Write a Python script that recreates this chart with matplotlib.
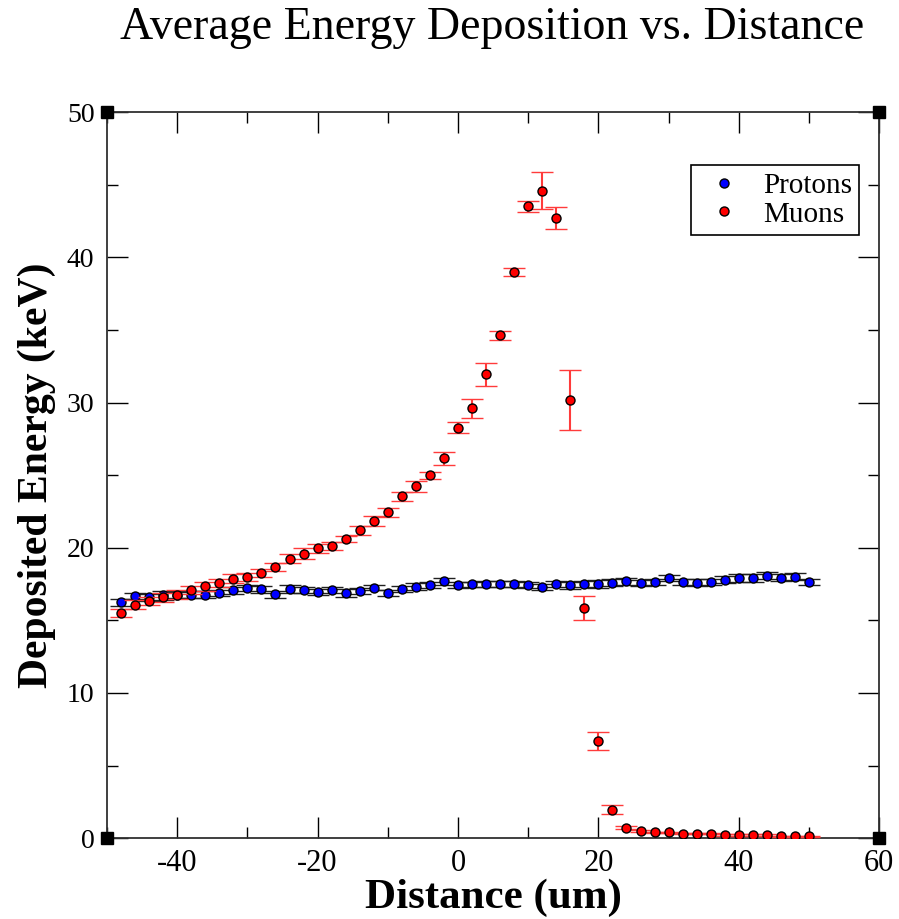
import matplotlib
matplotlib.use("Agg")
import matplotlib.pyplot as plt
from matplotlib.ticker import MultipleLocator
from matplotlib.lines import Line2D
import numpy as np

# Distance bins (um), every 2 um
distance = np.arange(-48, 51, 2)

# Protons: average deposited energy (keV) and errors
protons = [16.23, 16.67, 16.58, 16.71, 16.76, 16.76, 16.76, 16.90, 17.08, 17.20,
           17.13, 16.80, 17.17, 17.08, 16.94, 17.08, 16.90, 17.01, 17.26, 16.90,
           17.15, 17.32, 17.42, 17.68, 17.42, 17.47, 17.50, 17.50, 17.50, 17.42,
           17.31, 17.50, 17.40, 17.50, 17.50, 17.58, 17.68, 17.58, 17.65, 17.93,
           17.65, 17.58, 17.65, 17.80, 17.94, 17.93, 18.08, 17.93, 18.01, 17.65]
protons_err = [0.25, 0.22, 0.25, 0.28, 0.22, 0.25, 0.25, 0.22, 0.24, 0.20,
               0.22, 0.25, 0.29, 0.22, 0.20, 0.22, 0.28, 0.22, 0.20, 0.22,
               0.20, 0.22, 0.22, 0.25, 0.20, 0.20, 0.20, 0.22, 0.20, 0.20,
               0.22, 0.20, 0.22, 0.22, 0.25, 0.25, 0.25, 0.22, 0.20, 0.22,
               0.22, 0.24, 0.20, 0.25, 0.28, 0.26, 0.25, 0.24, 0.22, 0.22]

# Muons: average deposited energy (keV) and errors
muons = [15.53, 16.07, 16.32, 16.58, 16.76, 17.08, 17.33, 17.58, 17.88, 17.99,
         18.25, 18.68, 19.24, 19.58, 19.97, 20.13, 20.61, 21.19, 21.85, 22.45,
         23.53, 24.22, 24.98, 26.15, 28.26, 29.59, 31.93, 34.63, 38.98, 43.53,
         44.60, 42.72, 30.17, 15.84, 6.70, 1.97, 0.71, 0.48, 0.39, 0.39,
         0.30, 0.30, 0.30, 0.21, 0.21, 0.21, 0.21, 0.12, 0.12, 0.12]
muons_err = [0.28, 0.30, 0.28, 0.30, 0.30, 0.28, 0.30, 0.30, 0.30, 0.28,
             0.29, 0.25, 0.31, 0.39, 0.30, 0.28, 0.23, 0.31, 0.33, 0.31,
             0.31, 0.38, 0.22, 0.42, 0.38, 0.63, 0.80, 0.33, 0.30, 0.38,
             1.30, 0.76, 2.07, 0.84, 0.60, 0.29, 0.10, 0.08, 0.06, 0.06,
             0.05, 0.05, 0.05, 0.05, 0.05, 0.05, 0.05, 0.05, 0.05, 0.05]

plt.rcParams['font.family'] = ['Liberation Serif', 'DejaVu Serif']
plt.rcParams['axes.unicode_minus'] = False

fig = plt.figure(figsize=(8.99, 9.19), dpi=100)
ax = fig.add_axes([0.119, 0.088, 0.859, 0.790])

ax.errorbar(distance, protons, yerr=protons_err, fmt='o', color='#0000ff',
            markeredgecolor='black', markeredgewidth=1.0, markersize=6.5,
            ecolor='#202020', elinewidth=1.3, capsize=8, capthick=1.3, zorder=3)
ax.errorbar(distance, muons, yerr=muons_err, fmt='o', color='#ff0000',
            markeredgecolor='black', markeredgewidth=1.0, markersize=6.5,
            ecolor='#ff3b3b', elinewidth=1.5, capsize=8, capthick=1.5, zorder=4)

ax.set_xlim(-50, 60)
ax.set_ylim(0, 50)
ax.xaxis.set_major_locator(MultipleLocator(20))
ax.xaxis.set_minor_locator(MultipleLocator(10))
ax.yaxis.set_major_locator(MultipleLocator(10))
ax.yaxis.set_minor_locator(MultipleLocator(5))
ax.tick_params(which='both', direction='in', top=True, right=True, width=1.0)
ax.tick_params(which='major', length=15, labelsize=20, pad=9)
ax.tick_params(axis='x', which='major', labelsize=22, pad=8)
ax.tick_params(which='minor', length=8)
for s in ax.spines.values():
    s.set_linewidth(1.3)
    s.set_color('#303030')

# black corner squares like the original tool draws
ax.plot([0, 1, 0, 1], [0, 0, 1, 1], 's', color='black', markersize=8,
        transform=ax.transAxes, clip_on=False, zorder=6)

ax.set_xlabel('Distance (um)', fontsize=31, fontweight='bold', labelpad=0)
ax.set_ylabel('Deposited Energy (keV)', fontsize=30, fontweight='bold', labelpad=8)
fig.text(0.547, 1 - 28 / 919, 'Average Energy Deposition vs. Distance',
         ha='center', va='center', fontsize=33)

# legend shows only the symbols
handles = [Line2D([], [], ls='none', marker='o', markersize=6.5, color='#0000ff',
                  markeredgecolor='black', markeredgewidth=1.0),
           Line2D([], [], ls='none', marker='o', markersize=6.5, color='#ff0000',
                  markeredgecolor='black', markeredgewidth=1.0)]
leg = ax.legend(handles, ['Protons', 'Muons'], loc='upper right',
                bbox_to_anchor=(0.974, 0.927), fontsize=21,
                frameon=True, fancybox=False, framealpha=1, edgecolor='black',
                handletextpad=0.45, borderpad=0.25, labelspacing=0.08,
                handlelength=1.75, borderaxespad=0)
leg.get_frame().set_linewidth(1.2)

fig.savefig('out.png', dpi=100)
